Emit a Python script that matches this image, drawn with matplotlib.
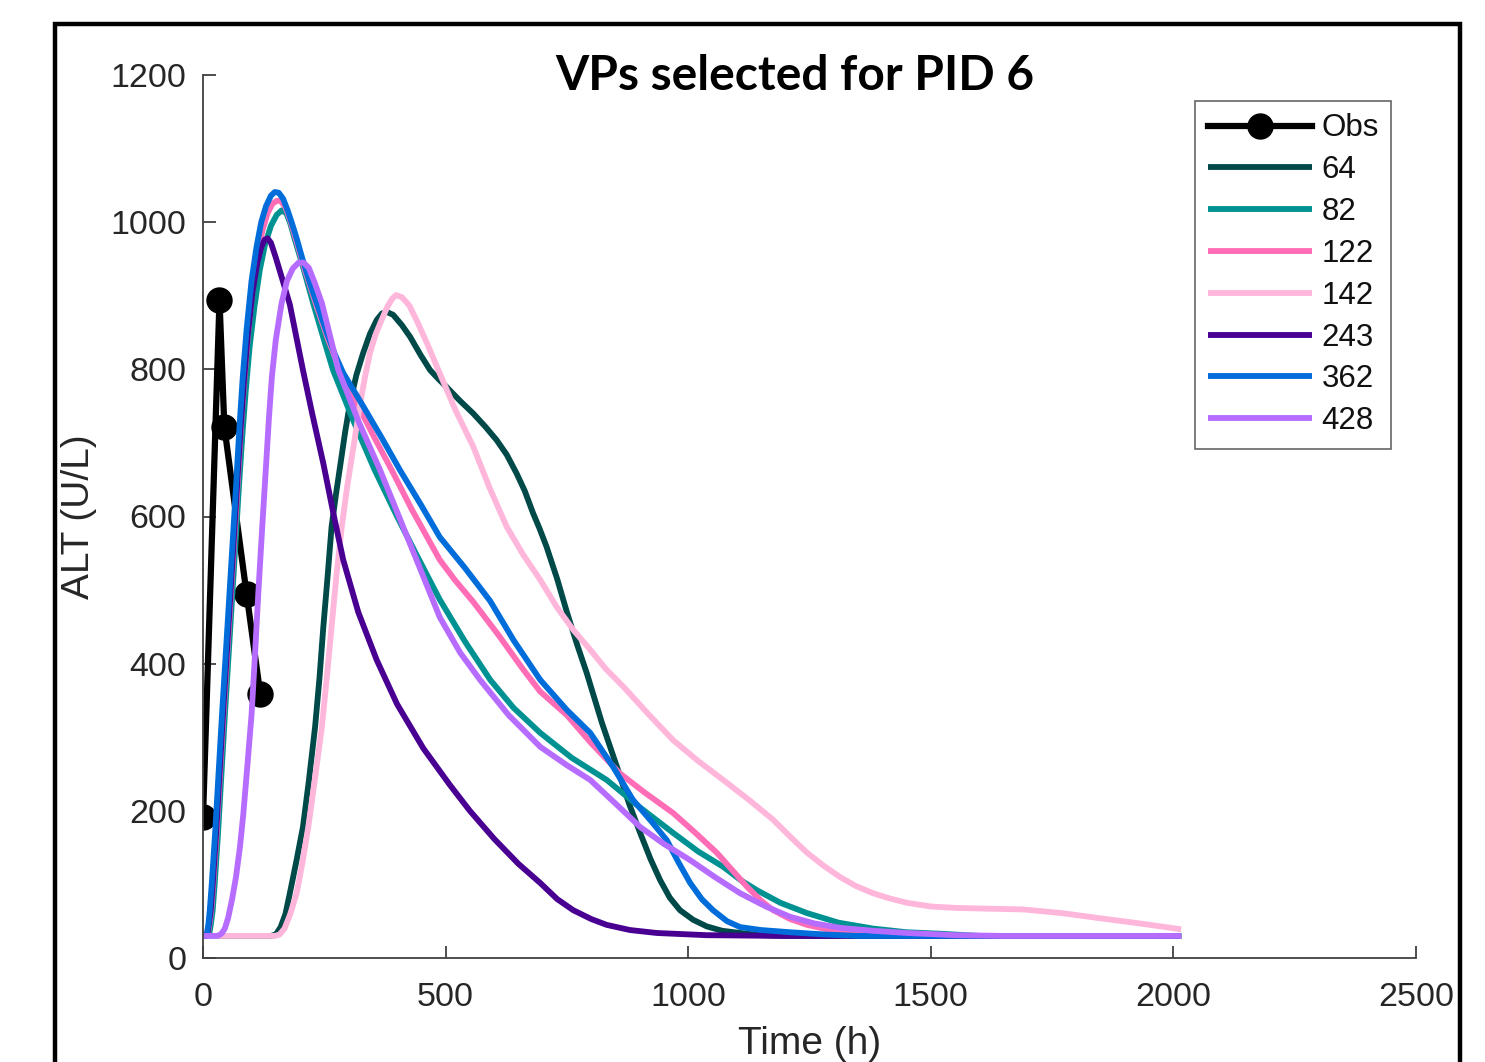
import matplotlib
matplotlib.use("Agg")
import matplotlib.pyplot as plt
from matplotlib.patches import Rectangle

plt.rcParams['font.family'] = ['Liberation Sans', 'DejaVu Sans']

# ---- data ----
obs_t = [0, 34, 44, 90, 118]
obs_alt = [191, 894, 722, 494, 359]

t64 = [0, 140, 150, 160, 170, 179, 192, 206, 218, 231, 240, 248, 257, 265, 274, 283, 293, 303, 316,
       330, 344, 358, 369, 379, 392, 410, 427, 448, 468, 485, 502, 530, 557, 582, 605, 626, 646, 663,
       680, 694, 708, 730, 750, 770, 791, 822, 853, 878, 901, 922, 942, 962, 983, 1010, 1038, 1070,
       1107, 1150, 1200, 2016]
v64 = [30, 30, 32, 42, 60, 88, 130, 178, 240, 314, 380, 450, 520, 586, 630, 670, 715, 754, 792,
       822, 848, 867, 876, 878, 874, 860, 844, 820, 799, 787, 776, 757, 740, 722, 704, 684, 659, 635,
       605, 583, 559, 515, 470, 428, 387, 320, 260, 210, 170, 135, 106, 82, 65, 52, 43, 37,
       34, 31, 30, 30]

t82 = [0, 10, 13, 16, 20, 24, 31, 38, 46, 54, 61, 68, 74, 81, 88, 96, 106, 117, 128, 140, 152, 162,
       172, 180, 190, 208, 227, 248, 268, 310, 354, 400, 440, 488, 540, 592, 640, 695, 760, 832, 900,
       969, 1020, 1072, 1110, 1142, 1190, 1245, 1310, 1381, 1450, 1519, 1600, 2016]
v82 = [30, 30, 33, 45, 65, 100, 170, 250, 340, 425, 500, 575, 640, 710, 770, 830, 885, 935, 970, 995, 1010, 1016,
       1012, 998, 975, 935, 890, 843, 799, 730, 663, 600, 548, 487, 430, 378, 340, 306, 272, 242, 205,
       170, 145, 124, 105, 92, 75, 61, 48, 40, 35, 33, 30, 30]

t122 = [0, 7, 10, 13, 17, 21, 28, 35, 43, 51, 58, 65, 71, 78, 85, 93, 103, 113, 123, 133, 143, 152, 160,
        170, 180, 190, 210, 233, 258, 283, 320, 355, 389, 430, 488, 520, 557, 610, 660, 695, 750, 800,
        859, 910, 969, 1015, 1059, 1090, 1121, 1150, 1175, 1210, 1245, 1300, 1350, 1450, 2016]
v122 = [30, 30, 33, 45, 65, 100, 170, 250, 340, 425, 500, 575, 640, 720, 785, 850, 915, 958, 990, 1012, 1025, 1029, 1029,
        1020, 1002, 980, 935, 888, 840, 799, 750, 705, 663, 610, 541, 513, 484, 438, 392, 362, 330, 292,
        251, 225, 197, 170, 143, 120, 97, 78, 65, 53, 45, 37, 33, 30, 30]

t142 = [0, 148, 158, 168, 180, 193, 205, 217, 230, 245, 255, 265, 275, 286, 297, 309, 324, 334, 344, 356,
        368, 380, 390, 398, 410, 425, 440, 462, 485, 520, 557, 590, 626, 660, 695, 729, 763, 798, 830,
        866, 920, 969, 1020, 1072, 1125, 1175, 1210, 1245, 1280, 1313, 1345, 1381, 1415, 1451, 1500,
        1554, 1620, 1690, 1770, 1849, 1930, 2016]
v142 = [30, 30, 32, 40, 60, 88, 130, 178, 240, 314, 380, 450, 520, 586, 640, 690, 754, 790, 822, 848,
        867, 885, 896, 901, 898, 887, 867, 835, 799, 745, 695, 640, 586, 548, 514, 477, 446, 419, 393,
        369, 330, 296, 268, 242, 215, 188, 165, 143, 125, 110, 98, 88, 81, 75, 70,
        68, 67, 66, 61, 54, 47, 39]

t243 = [0, 6, 9, 12, 16, 20, 27, 34, 42, 50, 57, 64, 70, 77, 84, 92, 102, 112, 120, 127, 133, 140, 150,
        160, 170, 179, 192, 206, 225, 248, 270, 289, 320, 358, 400, 454, 509, 550, 600, 650, 695, 730,
        763, 800, 832, 880, 935, 1038, 1200, 2016]
v243 = [30, 30, 33, 45, 65, 100, 170, 250, 340, 425, 500, 575, 640, 715, 780, 845, 905, 945, 966, 976, 978, 972, 952,
        930, 908, 888, 845, 799, 740, 672, 600, 541, 470, 405, 345, 285, 235, 200, 162, 128, 102, 80,
        65, 53, 45, 38, 34, 31, 30, 30]

t362 = [0, 5, 8, 11, 14, 18, 25, 32, 40, 48, 55, 62, 68, 75, 82, 90, 100, 110, 120, 130, 140, 148, 156,
        165, 175, 185, 193, 205, 220, 237, 255, 272, 289, 330, 370, 406, 450, 488, 540, 592, 640, 695,
        750, 798, 845, 886, 925, 956, 980, 1004, 1028, 1051, 1080, 1107, 1150, 1210, 1280, 1350, 2016]
v362 = [30, 30, 33, 45, 65, 100, 170, 250, 340, 425, 500, 575, 640, 720, 790, 855, 920, 965, 1000, 1022, 1036, 1041, 1040,
        1032, 1015, 995, 978, 950, 918, 885, 850, 820, 795, 750, 705, 663, 615, 572, 530, 485, 432, 378,
        337, 306, 260, 215, 185, 160, 130, 102, 80, 65, 50, 42, 38, 35, 32, 30, 30]

t428 = [0, 30, 38, 45, 52, 60, 68, 76, 83, 90, 100, 107, 114, 122, 130, 136, 142, 150, 162, 173, 185,
        197, 207, 218, 230, 245, 262, 279, 320, 365, 410, 450, 488, 530, 571, 630, 695, 750, 798, 850,
        901, 950, 1004, 1055, 1107, 1160, 1210, 1260, 1313, 1380, 1451, 1550, 1650, 2016]
v428 = [30, 30, 33, 40, 55, 80, 110, 150, 195, 250, 330, 410, 496, 585, 670, 735, 790, 840, 890, 920, 937,
        945, 945, 938, 918, 890, 845, 799, 730, 663, 590, 525, 463, 415, 378, 330, 287, 262, 242, 210,
        178, 155, 133, 110, 88, 70, 56, 47, 41, 37, 34, 31, 30, 30]

series = [("64", t64, v64, "#004949"),
          ("82", t82, v82, "#009292"),
          ("122", t122, v122, "#ff6db6"),
          ("142", t142, v142, "#ffb6db"),
          ("243", t243, v243, "#490092"),
          ("362", t362, v362, "#006ddb"),
          ("428", t428, v428, "#b66dff")]

xticks = [0, 500, 1000, 1500, 2000, 2500]
yticks = [0, 200, 400, 600, 800, 1000, 1200]

# ---- figure ----
W, H = 1485, 1062
fig = plt.figure(figsize=(W / 100, H / 100), dpi=100)
ax = fig.add_axes([203 / W, 1 - 958 / H, (1416 - 203) / W, (958 - 75) / H])

ax.plot(obs_t, obs_alt, '-o', color='black', lw=4.5, marker='o', markersize=18,
        markerfacecolor='black', label='Obs')
for name, t, v, c in series:
    ax.plot(t, v, '-', color=c, lw=4.2, label=name,
            solid_joinstyle='round', solid_capstyle='butt')

ax.set_xlim(0, 2500)
ax.set_ylim(0, 1200)
ax.set_xticks(xticks)
ax.set_yticks(yticks)
ax.set_xticklabels([str(x) for x in xticks])
ax.set_yticklabels([str(y) for y in yticks])
for s in ['top', 'right']:
    ax.spines[s].set_visible(False)
for s in ['left', 'bottom']:
    ax.spines[s].set_color('#404040')
    ax.spines[s].set_linewidth(1.3)
ax.tick_params(direction='in', length=9, width=1.3, color='#404040',
               labelsize=24.5, labelcolor='#262626')
ax.tick_params(axis='y', pad=12)
ax.tick_params(axis='x', pad=17.5)

ax.set_ylabel('ALT (U/L)', fontsize=28, color='#262626', labelpad=9.5)
ax.set_xlabel('Time (h)', fontsize=28, color='#262626', labelpad=9)

fig.text(795 / W, 1 - 76 / H, 'VPs selected for PID 6', ha='center', va='center',
         fontsize=34.5, fontweight='bold', family=['Lato', 'DejaVu Sans'])

leg = ax.legend(loc='upper left', bbox_to_anchor=(1195 / W, 1 - 101 / H),
                bbox_transform=fig.transFigure, fontsize=22.5, frameon=True,
                fancybox=False, edgecolor='#404040', handlelength=3.33,
                handletextpad=0.32, labelspacing=0.378, borderpad=0.4,
                borderaxespad=0)
leg.get_frame().set_linewidth(1.2)
for txt in leg.get_texts():
    txt.set_color('#111111')

# outer black frame
fig.patches.append(Rectangle((55 / W, -0.1), (1460 - 55) / W, 1.1 - 24 / H,
                             transform=fig.transFigure, fill=False,
                             edgecolor='black', linewidth=3.2, zorder=10))

fig.savefig('out.png', dpi=100)
